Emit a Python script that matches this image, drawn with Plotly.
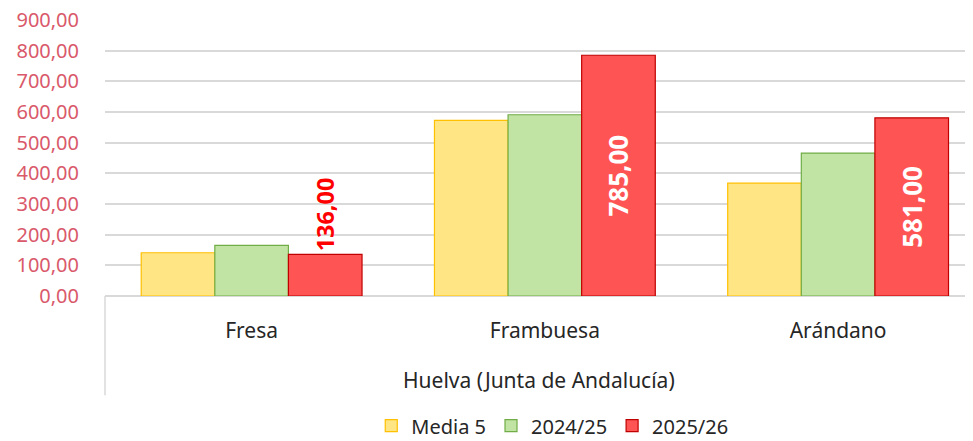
import plotly.graph_objects as go

region = "Huelva (Junta de Andalucía)"
cultivos = ["Fresa", "Frambuesa", "Arándano"]
media5 = [141, 573, 368]
campana_2425 = [165, 591, 466]
campana_2526 = [136, 785, 581]

fig = go.Figure()

fig.add_trace(go.Bar(
    x=cultivos, y=media5, name="Media 5",
    marker={"color": "#ffe583", "line": {"color": "#ffc000", "width": 1.2}},
))
fig.add_trace(go.Bar(
    x=cultivos, y=campana_2425, name="2024/25",
    marker={"color": "#c1e3a3", "line": {"color": "#70ad47", "width": 1.2}},
))
fig.add_trace(go.Bar(
    x=cultivos, y=campana_2526, name="2025/26",
    marker={"color": "#ff5454", "line": {"color": "#c00000", "width": 1.2}},
    text=[f"{v:.2f}".replace(".", ",") for v in campana_2526],
    textposition=["outside", "inside", "inside"],
    textangle=-90,
    insidetextanchor="middle",
    insidetextfont={"color": "white", "size": 26, "family": "Open Sans", "weight": "bold"},
    outsidetextfont={"color": "#ff0000", "size": 26, "family": "Open Sans", "weight": "bold"},
    cliponaxis=False,
))

# the page adds an 8px body margin, so the figure is 965x433
fig.update_layout(
    width=965,
    height=433,
    barmode="group",
    bargap=0.247,
    bargroupgap=0,
    separators=",.",
    plot_bgcolor="white",
    paper_bgcolor="white",
    font={"family": "Noto Sans", "color": "#404040"},
    margin={"l": 97, "r": 0, "t": 12, "b": 145, "autoexpand": False},
    showlegend=True,
    legend={
        "orientation": "h",
        "x": 0.564,
        "xref": "container",
        "xanchor": "center",
        "y": -0.47,
        "yref": "paper",
        "yanchor": "middle",
        "font": {"size": 20, "color": "#262626"},
        "itemwidth": 30,
        "tracegroupgap": 0,
    },
    xaxis={
        "range": [-0.5, 2.46],
        "showline": False,
        "tickfont": {"size": 21, "color": "#262626"},
        "ticklabelstandoff": 20,
        "ticks": "",
    },
    yaxis={
        "range": [0, 900],
        "tickvals": [0, 100, 200, 300, 400, 500, 600, 700, 800, 900],
        "tickformat": ".2f",
        "ticklabeloverflow": "allow",
        "gridcolor": "#d9d9d9",
        "gridwidth": 1.5,
        "zeroline": True,
        "zerolinecolor": "#d9d9d9",
        "zerolinewidth": 1.5,
        "tickfont": {"size": 20, "color": "#d9596a"},
        "ticks": "outside",
        "ticklen": 21,
        "tickcolor": "rgba(0,0,0,0)",
    },
    shapes=[
        {
            "type": "line",
            "xref": "paper", "yref": "paper",
            "x0": 0, "x1": 0, "y0": 0, "y1": -0.36,
            "line": {"color": "#d9d9d9", "width": 1.5},
        }
    ],
    annotations=[
        {
            "text": region,
            "xref": "paper", "yref": "paper",
            "x": 0.5, "y": -0.305,
            "xanchor": "center", "yanchor": "middle",
            "showarrow": False,
            "font": {"size": 21, "color": "#262626"},
        }
    ],
)

fig.write_html("out.html")
